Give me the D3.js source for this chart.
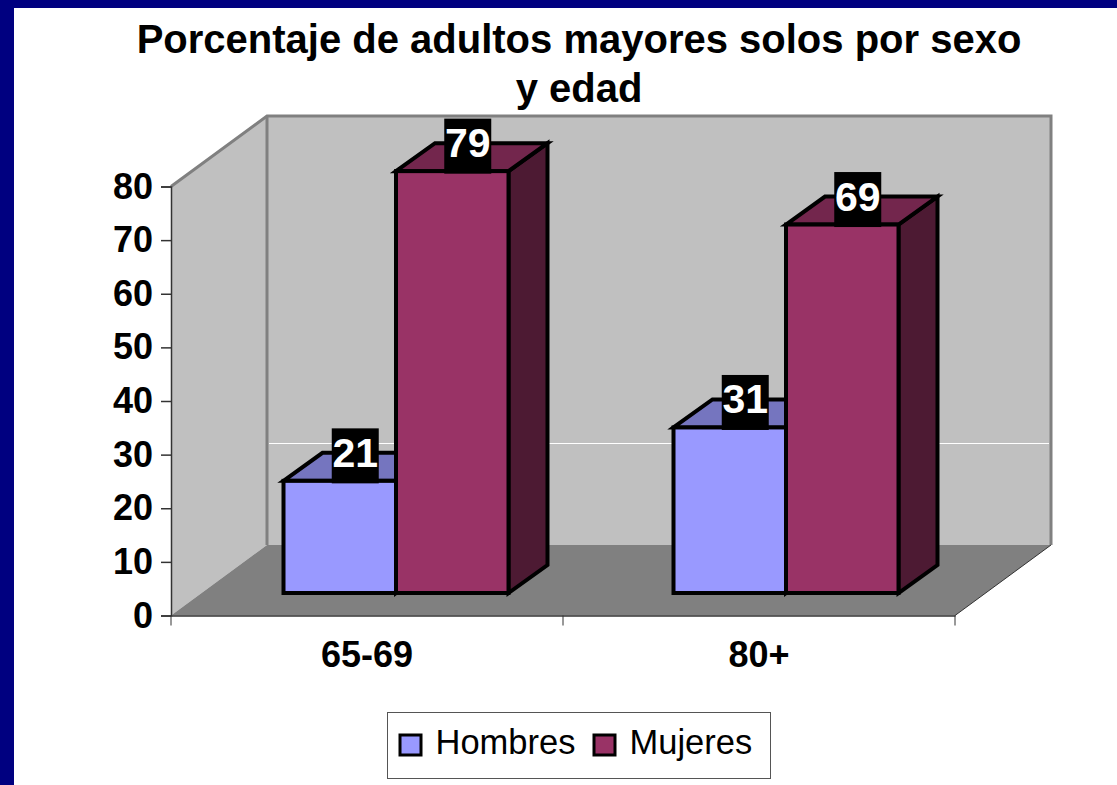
<!DOCTYPE html>
<html>
<head>
<meta charset="utf-8">
<script src="https://cdn.jsdelivr.net/npm/d3@7"></script>
<style>
  html, body { margin: 0; padding: 0; background: #000080; }
  svg { display: block; }
  text { font-family: "Liberation Sans", Arial, sans-serif; }
</style>
</head>
<body>
<div id="container"></div>
<script>
const categories = ['65-69', '80+'];
const seriesNames = ['Hombres', 'Mujeres'];
const hombres = [21, 31];
const mujeres = [79, 69];
const yTicks = [0, 10, 20, 30, 40, 50, 60, 70, 80];
const titleLines = ['Porcentaje de adultos mayores solos por sexo', 'y edad'];

const WIDTH = 1117;
const HEIGHT = 785;
const PLOT = { left: 171, right: 955, top: 186.5, bottom: 615.5 };
const WALL = { dx: 96, dy: -70.5 };
const BAR = { base: 593, dx: 39, dy: -28, left: 283.5, step: 390, width: 225 };

const fills = {
  Hombres: { front: '#9999ff', top: '#7575bf', side: '#4d4d80' },
  Mujeres: { front: '#993366', top: '#73264d', side: '#4d1a33' }
};

const svg = d3.select('#container').append('svg')
    .attr('width', WIDTH)
    .attr('height', HEIGHT);

// Page frame
svg.append('rect').attr('width', WIDTH).attr('height', HEIGHT).attr('fill', '#000080');
svg.append('rect').attr('x', 14).attr('y', 8).attr('width', WIDTH - 14).attr('height', HEIGHT - 8).attr('fill', '#fff');

// Scales
const x = d3.scaleBand().domain(categories).range([PLOT.left, PLOT.right]);
const y = d3.scaleLinear().domain([0, 80]).range([PLOT.bottom, PLOT.top]);
const barY = y.copy().range([BAR.base, BAR.base - 80 * 5.34]);
const xGroup = d3.scaleBand().domain(categories).range([BAR.left, BAR.left + 2 * BAR.step]);
const xSeries = d3.scaleBand().domain(seriesNames).range([0, BAR.width]);

const poly = pts => pts.map(p => p.join(',')).join(' ');

// Walls and floor
const backLeft = PLOT.left + WALL.dx;
const backRight = PLOT.right + WALL.dx;
const backTop = PLOT.top + WALL.dy;
const backBottom = PLOT.bottom + WALL.dy;

svg.append('polygon')
    .attr('points', poly([[PLOT.left, PLOT.top], [backLeft, backTop], [backLeft, backBottom], [PLOT.left, PLOT.bottom]]))
    .attr('fill', '#c0c0c0');
svg.append('rect')
    .attr('x', backLeft).attr('y', backTop)
    .attr('width', backRight - backLeft).attr('height', backBottom - backTop)
    .attr('fill', '#c0c0c0');
svg.append('polygon')
    .attr('points', poly([[PLOT.left, PLOT.bottom], [backLeft, backBottom], [backRight, backBottom], [PLOT.right, PLOT.bottom]]))
    .attr('fill', '#808080');
svg.append('polyline')
    .attr('points', poly([[PLOT.left, PLOT.top], [backLeft, backTop], [backRight, backTop], [backRight, backBottom]]))
    .attr('fill', 'none').attr('stroke', '#808080').attr('stroke-width', 3);
svg.append('line')
    .attr('x1', backLeft).attr('x2', backLeft).attr('y1', backTop).attr('y2', backBottom)
    .attr('stroke', '#808080').attr('stroke-width', 3);
svg.append('line')
    .attr('x1', backLeft + 2).attr('x2', backRight - 2).attr('y1', 443.5).attr('y2', 443.5)
    .attr('stroke', '#fff').attr('stroke-width', 1);
svg.append('line')
    .attr('x1', PLOT.right).attr('y1', PLOT.bottom).attr('x2', backRight).attr('y2', backBottom)
    .attr('stroke', '#333').attr('stroke-width', 1);

// Bars, series by series so the taller front one hides the neighbour's side
const barData = seriesNames.flatMap((s, i) => categories.map((c, j) => ({
  series: s,
  category: c,
  value: (i === 0 ? hombres : mujeres)[j]
})));

const bars = svg.append('g').selectAll('g').data(barData).join('g')
    .attr('stroke', '#000').attr('stroke-width', 4).attr('stroke-linejoin', 'miter');

const x0 = d => xGroup(d.category) + xSeries(d.series);
const x1 = d => x0(d) + xSeries.bandwidth();

bars.append('polygon')
    .attr('fill', d => fills[d.series].side)
    .attr('points', d => poly([
      [x1(d), barY(d.value)], [x1(d) + BAR.dx, barY(d.value) + BAR.dy],
      [x1(d) + BAR.dx, BAR.base + BAR.dy], [x1(d), BAR.base]]));
bars.append('polygon')
    .attr('fill', d => fills[d.series].top)
    .attr('points', d => poly([
      [x0(d), barY(d.value)], [x0(d) + BAR.dx, barY(d.value) + BAR.dy],
      [x1(d) + BAR.dx, barY(d.value) + BAR.dy], [x1(d), barY(d.value)]]));
bars.append('rect')
    .attr('fill', d => fills[d.series].front)
    .attr('x', x0)
    .attr('y', d => barY(d.value))
    .attr('width', xSeries.bandwidth())
    .attr('height', d => BAR.base - barY(d.value));

// Value labels on black boxes
const labels = svg.append('g').selectAll('g').data(barData).join('g')
    .attr('transform', d => 'translate(' + ((x0(d) + x1(d)) / 2 + 15.5) + ',' + (barY(d.value) - 25) + ')');
labels.append('rect')
    .attr('x', -23.5).attr('y', -27.5).attr('width', 47).attr('height', 55)
    .attr('fill', '#000');
labels.append('text')
    .attr('text-anchor', 'middle')
    .attr('y', 11)
    .attr('font-size', 41).attr('font-weight', 'bold').attr('fill', '#fff')
    .text(d => d.value);

// Axes
const yAxis = d3.axisLeft(y).tickValues(yTicks).tickSize(10).tickPadding(8);
const yG = svg.append('g')
    .attr('transform', 'translate(' + PLOT.left + ',0)')
    .call(yAxis);
const xAxis = d3.axisBottom(x).tickSize(0).tickPadding(26);
const xG = svg.append('g')
    .attr('transform', 'translate(0,' + PLOT.bottom + ')')
    .call(xAxis);
xG.selectAll('.bound')
    .data(x.domain().concat('end')).join('line')
    .attr('class', 'bound')
    .attr('x1', (d, i) => PLOT.left + i * x.step())
    .attr('x2', (d, i) => PLOT.left + i * x.step())
    .attr('y1', 0).attr('y2', 10)
    .attr('stroke', '#333');
[yG, xG].forEach(g => {
  g.selectAll('.domain, .tick line').attr('stroke', '#333').attr('stroke-width', 1.5);
  g.selectAll('text')
      .attr('font-family', '"Liberation Sans", Arial, sans-serif')
      .attr('font-size', 36).attr('font-weight', 'bold').attr('fill', '#000');
});

// Title
svg.append('g').selectAll('text').data(titleLines).join('text')
    .attr('x', 579)
    .attr('y', (d, i) => 53 + i * 49)
    .attr('text-anchor', 'middle')
    .attr('font-size', 40).attr('font-weight', 'bold').attr('fill', '#000')
    .text(d => d);

// Legend
const legend = svg.append('g');
legend.append('rect')
    .attr('x', 387.5).attr('y', 712.5).attr('width', 383).attr('height', 66)
    .attr('fill', '#fff').attr('stroke', '#555').attr('stroke-width', 1);
const legendX = d3.scaleOrdinal().domain(seriesNames).range([400, 594]);
const legendItems = legend.selectAll('g').data(seriesNames).join('g')
    .attr('transform', d => 'translate(' + legendX(d) + ',735)');
legendItems.append('rect')
    .attr('width', 21).attr('height', 20)
    .attr('fill', d => fills[d].front)
    .attr('stroke', '#000').attr('stroke-width', 3);
legendItems.append('text')
    .attr('x', 35.5).attr('y', 19)
    .attr('font-size', 34.5).attr('fill', '#000')
    .text(d => d);
</script>
</body>
</html>
